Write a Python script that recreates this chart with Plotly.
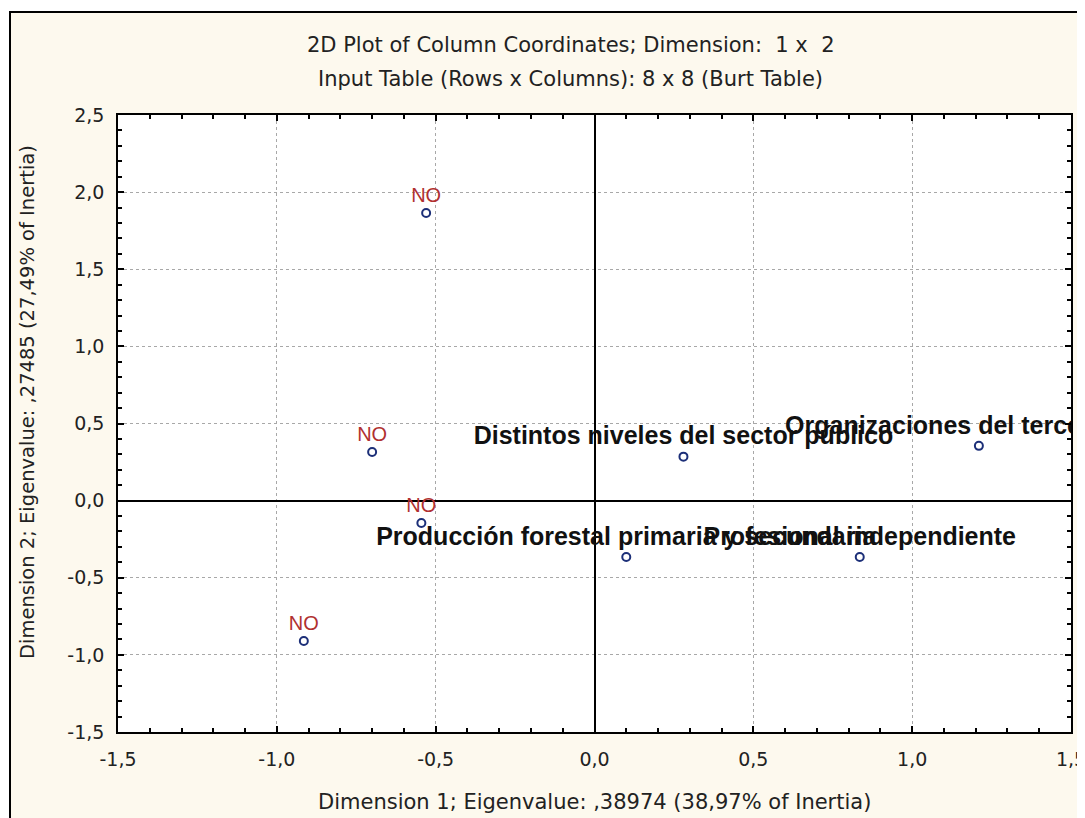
import plotly.graph_objects as go

# Data
no_x = [-0.53, -0.70, -0.545, -0.915]
no_y = [1.865, 0.315, -0.145, -0.91]
no_labels = ["NO", "NO", "NO", "NO"]

cat_x = [0.28, 1.21, 0.10, 0.835]
cat_y = [0.285, 0.355, -0.365, -0.365]
cat_labels = [
    "Distintos niveles del sector público",
    "Organizaciones del tercer sector",
    "Producción forestal primaria y secundaria",
    "Profesional independiente",
]

x_tickvals = [-1.5, -1.0, -0.5, 0.0, 0.5, 1.0, 1.5]
x_ticktext = ["-1,5", "-1,0", "-0,5", "0,0", "0,5", "1,0", "1,5"]
y_tickvals = [-1.5, -1.0, -0.5, 0.0, 0.5, 1.0, 1.5, 2.0, 2.5]
y_ticktext = ["-1,5", "-1,0", "-0,5", "0,0", "0,5", "1,0", "1,5", "2,0", "2,5"]

title1 = "2D Plot of Column Coordinates; Dimension:  1 x  2"
title2 = "Input Table (Rows x Columns): 8 x 8 (Burt Table)"
xtitle = "Dimension 1; Eigenvalue: ,38974 (38,97% of Inertia)"
ytitle = "Dimension 2; Eigenvalue: ,27485 (27,49% of Inertia)"

OFF = 8  # page body margin
W, H = 1085 - OFF, 818 - OFF
# plot area in screen pixels: x 118..1071, y 115..732
L, T = 118 - OFF, 115 - OFF
R = W - (1071 - OFF)
B = H - (732 - OFF)
pw, ph = W - L - R, H - T - B

def px2paper_x(px):
    return (px - OFF - L) / pw

def px2paper_y(py):
    return (H - B - (py - OFF)) / ph

marker = dict(symbol="circle-open", size=8, color="#1c2f78", line=dict(width=2, color="#1c2f78"))

fig = go.Figure()
fig.add_trace(go.Scatter(
    x=no_x, y=no_y, mode="markers+text", text=no_labels,
    textposition="top center",
    textfont=dict(family="Liberation Sans", size=20, color="#b03030"),
    marker=marker, cliponaxis=True, showlegend=False,
))
fig.add_trace(go.Scatter(
    x=cat_x, y=cat_y, mode="markers+text", text=cat_labels,
    textposition="top center",
    textfont=dict(family="Liberation Sans", size=25, color="#111111", weight="bold"),
    marker=marker, cliponaxis=True, showlegend=False,
))

axis_common = dict(
    tickmode="array", automargin=False, ticklabeloverflow="allow",
    showgrid=True, gridcolor="#a8a8a8", griddash="dot", gridwidth=1,
    zeroline=True, zerolinecolor="#000000", zerolinewidth=1.5,
    showline=True, linecolor="#000000", linewidth=1.5, mirror="ticks",
    ticks="inside", ticklen=6, tickwidth=2, tickcolor="#000000",
    minor=dict(dtick=0.1, tick0=0, ticks="inside", ticklen=4, tickwidth=1.5,
               tickcolor="#000000", showgrid=False),
    tickfont=dict(family="DejaVu Sans", size=19, color="#222222"),
)

fig.update_xaxes(**axis_common, range=[-1.5, 1.5], tickvals=x_tickvals, ticktext=x_ticktext,
                 ticklabelstandoff=9)
fig.update_yaxes(**axis_common, range=[-1.5, 2.5], tickvals=y_tickvals, ticktext=y_ticktext,
                 ticklabelstandoff=8)

shapes = [
    dict(type="rect", xref="paper", yref="paper",
         x0=px2paper_x(10), x1=px2paper_x(1100), y0=px2paper_y(830), y1=px2paper_y(12),
         fillcolor="#fdf9ee", line=dict(color="#000000", width=2), layer="below"),
    dict(type="rect", xref="paper", yref="paper", x0=0, x1=1, y0=0, y1=1,
         fillcolor="#ffffff", line=dict(width=0), layer="below"),
]

tfont = dict(family="DejaVu Sans", size=21, color="#222222")
yfont = dict(family="DejaVu Sans", size=19.5, color="#222222")
annotations = [
    dict(text=title1, xref="paper", yref="paper", x=px2paper_x(571), y=px2paper_y(45),
         showarrow=False, xanchor="center", yanchor="middle", font=tfont),
    dict(text=title2, xref="paper", yref="paper", x=px2paper_x(570), y=px2paper_y(79),
         showarrow=False, xanchor="center", yanchor="middle", font=tfont),
    dict(text=xtitle, xref="paper", yref="paper", x=px2paper_x(594), y=px2paper_y(802),
         showarrow=False, xanchor="center", yanchor="middle", font=tfont),
    dict(text=ytitle, xref="paper", yref="paper", x=px2paper_x(27), y=px2paper_y(402),
         showarrow=False, xanchor="center", yanchor="middle", textangle=-90, font=yfont),
]

fig.update_layout(
    width=W, height=H,
    margin=dict(l=L, r=R, t=T, b=B, pad=0, autoexpand=False),
    paper_bgcolor="#ffffff", plot_bgcolor="#ffffff",
    separators=", ",
    shapes=shapes, annotations=annotations,
    showlegend=False,
)

fig.write_html("out.html")
